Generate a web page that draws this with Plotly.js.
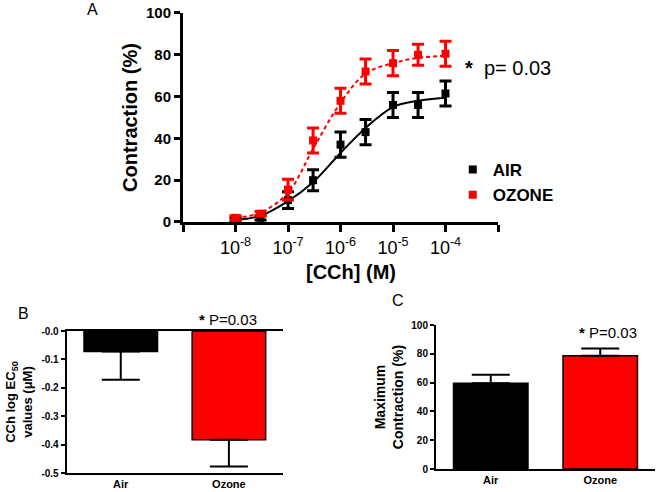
<!DOCTYPE html>
<html>
<head>
<meta charset="utf-8">
<script src="https://cdn.plot.ly/plotly-3.0.1.min.js"></script>
<style>
  html, body { margin: 0; padding: 0; background: #fff; }
  #chart { width: 661px; height: 492px; }
</style>
</head>
<body>
<div id="chart"></div>
<script>
// パネルA: 濃度反応曲線
const conc = [1e-8, 3e-8, 1e-7, 3e-7, 1e-6, 3e-6, 1e-5, 3e-5, 1e-4];
const airMean = [1, 2, 10.5, 20, 37, 43, 56, 56, 61.5];
const airSem = [1, 1, 4, 5, 6, 6, 6, 6, 6];
const ozoneMean = [2, 4, 15.5, 39, 58, 72, 76, 80, 80.5];
const ozoneSem = [1, 1, 5, 6, 6, 6, 6, 5, 6];
// フィット曲線
const airFit = [1, 3, 10, 19, 33, 45, 55, 58, 59.5];
const ozoneFit = [2, 4.5, 14, 35, 57, 71, 76, 78.5, 79.5];
const xTickVals = [1e-9, 1e-8, 1e-7, 1e-6, 1e-5, 1e-4, 1e-3];
const xTickText = ['', '10<sup>-8</sup>', '10<sup>-7</sup>', '10<sup>-6</sup>', '10<sup>-5</sup>', '10<sup>-4</sup>', ''];

// パネルB / C: 棒グラフ
const groups = ['Air', 'Ozone'];
const ec50Mean = [-0.072, -0.383];
const ec50Sem = [0.1, 0.094];
const maxMean = [59.5, 78.7];
const maxSem = [6, 5];
const ec50Ticks = [0, -0.1, -0.2, -0.3, -0.4, -0.5];
const ec50TickText = ['-0.0', '-0.1', '-0.2', '-0.3', '-0.4', '-0.5'];

const ARIAL = 'Arial, "Liberation Sans", sans-serif';
const RED = '#ff0000';

const traces = [
    {
        x: conc, y: airFit, type: 'scatter', mode: 'lines',
        line: { color: '#000', width: 2, shape: 'spline' },
        showlegend: false, xaxis: 'x', yaxis: 'y'
    },
    {
        x: conc, y: ozoneFit, type: 'scatter', mode: 'lines',
        line: { color: RED, width: 2, dash: '4px,3px', shape: 'spline' },
        showlegend: false, xaxis: 'x', yaxis: 'y'
    },
    {
        x: conc, y: airMean, type: 'scatter', mode: 'markers', name: 'AIR',
        marker: { symbol: 'square', size: 8, color: '#000' },
        error_y: { type: 'data', array: airSem, color: '#000', thickness: 3, width: 6 },
        xaxis: 'x', yaxis: 'y'
    },
    {
        x: conc, y: ozoneMean, type: 'scatter', mode: 'markers', name: 'OZONE',
        marker: { symbol: 'square', size: 8, color: RED },
        error_y: { type: 'data', array: ozoneSem, color: RED, thickness: 3, width: 6 },
        xaxis: 'x', yaxis: 'y'
    },
    {
        x: groups, y: ec50Mean, type: 'bar', width: 0.68,
        marker: { color: ['#000', RED], line: { color: '#000', width: 1.5 } },
        error_y: { type: 'data', symmetric: false, array: [0, 0], arrayminus: ec50Sem,
                   color: '#000', thickness: 2, width: 19 },
        showlegend: false, xaxis: 'x2', yaxis: 'y2'
    },
    {
        x: groups, y: maxMean, type: 'bar', width: 0.68,
        marker: { color: ['#000', RED], line: { color: '#000', width: 1.5 } },
        error_y: { type: 'data', symmetric: false, array: maxSem, arrayminus: [0, 0],
                   color: '#000', thickness: 2, width: 19 },
        showlegend: false, xaxis: 'x3', yaxis: 'y3'
    }
];

const boldTick = size => ({ family: ARIAL, size: size, color: '#000', weight: 'bold' });

const layout = {
    width: 661,
    height: 492,
    margin: { l: 0, r: 0, t: 0, b: 0 },
    paper_bgcolor: '#fff',
    plot_bgcolor: 'rgba(0,0,0,0)',
    font: { family: ARIAL, color: '#000' },
    showlegend: true,
    legend: {
        x: 0.685, y: 0.691, xanchor: 'left', yanchor: 'top',
        font: { family: ARIAL, size: 17, color: '#000', weight: 'bold' },
        bgcolor: 'rgba(0,0,0,0)'
    },
    xaxis: {
        domain: [0.2769, 0.7534], anchor: 'y',
        type: 'log', range: [-9, -3],
        tickvals: xTickVals, ticktext: xTickText,
        showline: true, linecolor: '#000', linewidth: 3,
        ticks: 'outside', ticklen: 7, tickwidth: 3, tickcolor: '#000',
        showgrid: false, zeroline: false,
        tickfont: { family: ARIAL, size: 18, color: '#000' }
    },
    yaxis: {
        domain: [0.5488, 0.9736], anchor: 'x',
        range: [0, 100], tickvals: [0, 20, 40, 60, 80, 100],
        showline: true, linecolor: '#000', linewidth: 3,
        ticks: 'outside', ticklen: 6, tickwidth: 3, tickcolor: '#000',
        showgrid: false, zeroline: false,
        tickfont: boldTick(15),
        title: { text: 'Contraction (%)', font: { family: ARIAL, size: 20, color: '#000', weight: 'bold' }, standoff: 3 }
    },
    xaxis2: {
        domain: [0.1009, 0.4281], anchor: 'y2',
        range: [-0.5, 1.5],
        showline: true, linecolor: '#000', linewidth: 2, mirror: true,
        ticks: '', showgrid: false, zeroline: false,
        tickfont: boldTick(11)
    },
    yaxis2: {
        domain: [0.0386, 0.3272], anchor: 'x2',
        range: [-0.5, 0], tickvals: ec50Ticks, ticktext: ec50TickText,
        showline: true, linecolor: '#000', linewidth: 2,
        ticks: 'outside', ticklen: 4, tickwidth: 2, tickcolor: '#000',
        showgrid: false, zeroline: false,
        tickfont: boldTick(10),
        title: { text: 'CCh log EC<sub>50</sub><br>values (\u03bcM)', font: { family: ARIAL, size: 13, color: '#000', weight: 'bold' }, standoff: 6 }
    },
    xaxis3: {
        domain: [0.6596, 0.9909], anchor: 'y3',
        range: [-0.5, 1.5],
        showline: true, linecolor: '#000', linewidth: 2,
        ticks: '', showgrid: false, zeroline: false,
        tickfont: boldTick(11)
    },
    yaxis3: {
        domain: [0.0467, 0.3394], anchor: 'x3',
        range: [0, 100], tickvals: [0, 20, 40, 60, 80, 100],
        showline: true, linecolor: '#000', linewidth: 2,
        ticks: 'outside', ticklen: 4, tickwidth: 2, tickcolor: '#000',
        showgrid: false, zeroline: false,
        tickfont: boldTick(10),
        title: { text: 'Maximum<br>Contraction (%)', font: { family: ARIAL, size: 14, color: '#000', weight: 'bold' }, standoff: 4 }
    },
    annotations: [
        { text: '[CCh] (M)', x: 351 / 661, y: 1 - 272 / 492, xref: 'paper', yref: 'paper',
          xanchor: 'center', yanchor: 'middle', showarrow: false,
          font: { size: 20, weight: 'bold' } },
        { text: 'A', x: 93 / 661, y: 1 - 10 / 492, xref: 'paper', yref: 'paper',
          xanchor: 'center', yanchor: 'middle', showarrow: false, font: { size: 16 } },
        { text: '<b>*</b>  p= 0.03', x: 463 / 661, y: 1 - 68 / 492, xref: 'paper', yref: 'paper',
          xanchor: 'left', yanchor: 'middle', showarrow: false, font: { size: 20 } },
        { text: 'B', x: 23 / 661, y: 1 - 313 / 492, xref: 'paper', yref: 'paper',
          xanchor: 'center', yanchor: 'middle', showarrow: false, font: { size: 16 } },
        { text: '<b>*</b> P=0.03', x: 228 / 661, y: 1 - 319 / 492, xref: 'paper', yref: 'paper',
          xanchor: 'center', yanchor: 'middle', showarrow: false, font: { size: 15 } },
        { text: 'C', x: 398 / 661, y: 1 - 300 / 492, xref: 'paper', yref: 'paper',
          xanchor: 'center', yanchor: 'middle', showarrow: false, font: { size: 16 } },
        { text: '<b>*</b> P=0.03', x: 608 / 661, y: 1 - 332 / 492, xref: 'paper', yref: 'paper',
          xanchor: 'center', yanchor: 'middle', showarrow: false, font: { size: 15 } }
    ]
};

Plotly.newPlot('chart', traces, layout, { staticPlot: true, displayModeBar: false });
</script>
</body>
</html>
